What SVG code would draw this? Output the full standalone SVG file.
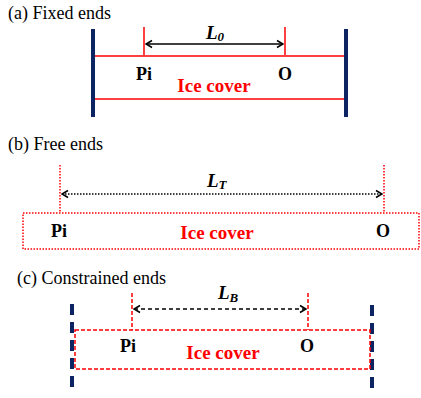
<svg xmlns="http://www.w3.org/2000/svg" width="421" height="398" viewBox="0 0 421 398" font-family="'Liberation Serif', 'Times New Roman', serif">
<defs>
<style>
text{font-family:'Liberation Serif','Times New Roman',serif}
.title{font-size:18px;fill:#000}
.pt{font-size:18px;font-weight:bold;fill:#000}
.ice{font-size:19px;font-weight:bold;fill:#ff0000}
.len{font-size:19px;font-weight:bold;font-style:italic;fill:#000}
.navy{stroke:#0c2461;stroke-width:4;fill:none}
.red{stroke:#ff0000;stroke-width:1.5;fill:none}
.dot{stroke-dasharray:1.5 1.5}
.dash{stroke-dasharray:4 2}
.arr{stroke:#000;stroke-width:1.5;fill:none}
</style>
<marker id="ah" viewBox="-1 -5 8 10" markerWidth="8" markerHeight="10" refX="6" refY="0" orient="auto-start-reverse" markerUnits="userSpaceOnUse">
<path d="M0,-3.5 L6,0 L0,3.5" fill="none" stroke="#000" stroke-width="1.6"/>
</marker>
</defs>

<g id="panel-a">
<text class="title" x="8" y="19">(a) Fixed ends</text>
<g id="a-walls">
<line class="navy" x1="93" y1="29" x2="93" y2="117"/>
<line class="navy" x1="346" y1="29" x2="346" y2="117"/>
</g>
<g id="a-ice">
<line class="red" x1="95" y1="56" x2="344" y2="56"/>
<line class="red" x1="95" y1="99" x2="344" y2="99"/>
<text class="ice" x="214" y="92" text-anchor="middle">Ice cover</text>
</g>
<g id="a-points">
<line class="red" stroke-width="2" x1="144" y1="27" x2="144" y2="55"/>
<line class="red" stroke-width="2" x1="285" y1="27" x2="285" y2="55"/>
<text class="pt" x="144" y="80" text-anchor="middle">Pi</text>
<text class="pt" x="285" y="80" text-anchor="middle">O</text>
</g>
<g id="a-connector">
<line class="arr" x1="146" y1="44" x2="283" y2="44" marker-start="url(#ah)" marker-end="url(#ah)"/>
<text class="len" x="206" y="39">L<tspan font-size="13" dy="2">0</tspan></text>
</g>
</g>

<g id="panel-b">
<text class="title" x="8" y="150">(b) Free ends</text>
<g id="b-ice">
<rect class="red dot" x="23" y="213" width="396" height="36"/>
<text class="ice" x="217" y="239" text-anchor="middle">Ice cover</text>
</g>
<g id="b-points">
<line class="red dot" stroke-width="2" x1="60" y1="165" x2="60" y2="212"/>
<line class="red dot" stroke-width="2" x1="384" y1="165" x2="384" y2="212"/>
<text class="pt" x="59" y="237" text-anchor="middle">Pi</text>
<text class="pt" x="383" y="237" text-anchor="middle">O</text>
</g>
<g id="b-connector">
<line class="arr" stroke-dasharray="1.5 1.5" x1="62" y1="194" x2="382" y2="194" marker-start="url(#ah)" marker-end="url(#ah)"/>
<text class="len" x="207" y="187">L<tspan font-size="13" dy="2">T</tspan></text>
</g>
</g>

<g id="panel-c">
<text class="title" x="17" y="284">(c) Constrained ends</text>
<g id="c-walls">
<line class="navy" stroke-dasharray="11 7" x1="72" y1="304" x2="72" y2="394"/>
<line class="navy" stroke-dasharray="11 7" x1="372" y1="305" x2="372" y2="394"/>
</g>
<g id="c-ice">
<rect class="red dash" x="75" y="330" width="295" height="39"/>
<text class="ice" x="223" y="359" text-anchor="middle">Ice cover</text>
</g>
<g id="c-points">
<line class="red dash" stroke-width="2" x1="132" y1="293" x2="132" y2="330"/>
<line class="red dash" stroke-width="2" x1="308" y1="293" x2="308" y2="330"/>
<text class="pt" x="128" y="352" text-anchor="middle">Pi</text>
<text class="pt" x="307" y="352" text-anchor="middle">O</text>
</g>
<g id="c-connector">
<line class="arr" stroke-dasharray="4 3" x1="134" y1="309" x2="306" y2="309" marker-start="url(#ah)" marker-end="url(#ah)"/>
<text class="len" x="218" y="299">L<tspan font-size="13" dy="3">B</tspan></text>
</g>
</g>
</svg>
